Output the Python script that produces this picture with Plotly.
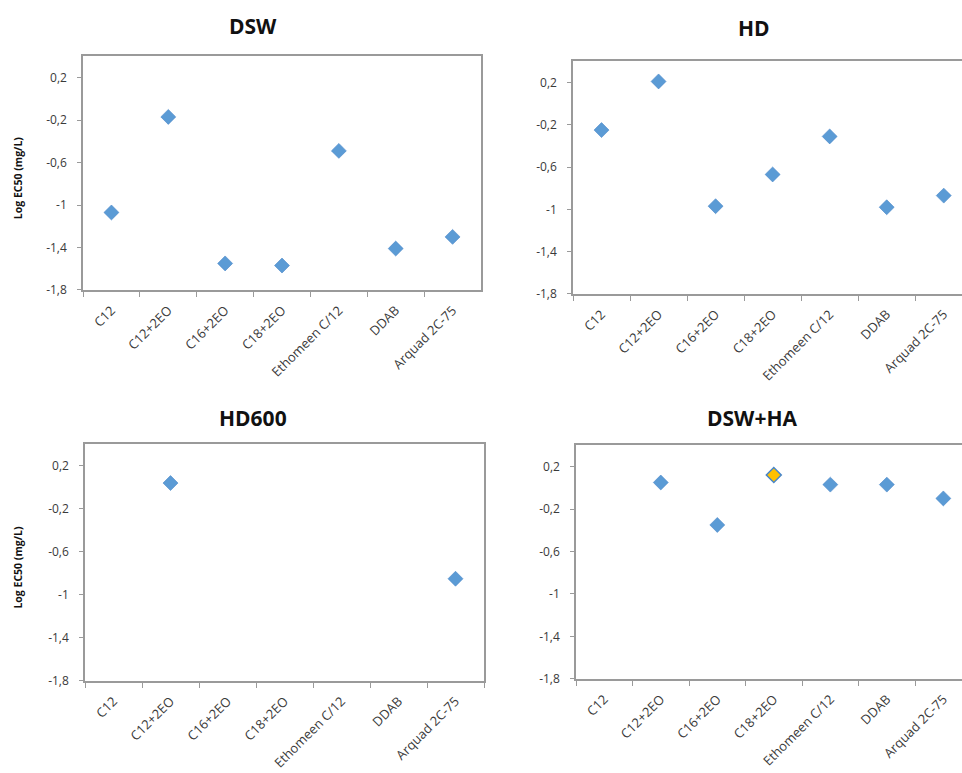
import plotly.graph_objects as go

# ---------------- data ----------------
categories = ["C12", "C12+2EO", "C16+2EO", "C18+2EO", "Ethomeen C/12", "DDAB", "Arquad 2C-75"]
dsw = [-1.07, -0.17, -1.55, -1.57, -0.49, -1.41, -1.30]
hd = [-0.25, 0.21, -0.97, -0.67, -0.31, -0.98, -0.87]
hd600 = [None, 0.04, None, None, None, None, -0.85]
dsw_ha = [None, 0.05, -0.35, 0.12, 0.03, 0.03, -0.10]
panel_titles = ["DSW", "HD", "HD600", "DSW+HA"]
y_tickvals = [-1.8, -1.4, -1.0, -0.6, -0.2, 0.2]
y_ticktext = ["-1,8", "-1,4", "-1", "-0,6", "-0,2", "0,2"]
y_title = "Log EC50 (mg/L)"
highlight_category = "C18+2EO"  # yellow point in DSW+HA

# ---------------- style / layout ----------------
W, H = 962, 773
BLUE = "#5B9BD5"
BLUE_LINE = "#4A86C8"
YELLOW = "#FFC000"
AXIS = "#9a9a9a"
TXT = "#3a3a3a"
FONT = "Open Sans"

def px_x(v):
    return v / W

def px_y(v):
    return 1 - v / H

panels = [
    dict(l=83, r=481, t=57, b=293, xmax=6.5, full=True, title_xy=(253, 26)),
    dict(l=573, r=962, t=62, b=297, xmax=6.32, full=False, title_xy=(754, 28)),
    dict(l=85, r=484, t=449, b=688, xmax=6.5, full=True, title_xy=(253, 422)),
    dict(l=576, r=962, t=450, b=686, xmax=6.33, full=False, title_xy=(752, 422)),
]
series = [dsw, hd, hd600, dsw_ha]

fig = go.Figure()
annotations = []
for i, (p, ys) in enumerate(zip(panels, series)):
    n = "" if i == 0 else str(i + 1)
    colors = []
    lines = []
    for c in categories:
        if i == 3 and c == highlight_category:
            colors.append(YELLOW)
            lines.append(1.5)
        else:
            colors.append(BLUE)
            lines.append(0.6)
    fig.add_trace(go.Scatter(
        x=categories, y=ys, mode="markers",
        xaxis="x" + n, yaxis="y" + n,
        marker=dict(symbol="diamond", size=11.5, color=colors,
                    line=dict(color=BLUE_LINE, width=lines)),
        showlegend=False, hoverinfo="x+y",
    ))
    fig.layout["xaxis" + n] = dict(
        domain=[px_x(p["l"]), px_x(p["r"])],
        anchor="y" + n,
        type="category",
        categoryorder="array", categoryarray=categories,
        range=[-0.5, p["xmax"]],
        showline=True, linecolor=AXIS, linewidth=1.5,
        mirror=True,
        ticks="outside", tickson="boundaries", ticklen=5, tickcolor=AXIS,
        tickangle=-45,
        tickfont=dict(family=FONT, size=13, color=TXT),
        ticklabelstandoff=6,
        showgrid=False, zeroline=False, fixedrange=True,
    )
    fig.layout["yaxis" + n] = dict(
        domain=[px_y(p["b"]), px_y(p["t"])],
        anchor="x" + n,
        range=[-1.8, 0.4],
        tickvals=y_tickvals, ticktext=y_ticktext,
        showline=True, linecolor=AXIS, linewidth=1.5,
        mirror=p["full"],
        ticks="outside", ticklen=4, tickcolor=AXIS,
        tickfont=dict(family=FONT, size=12, color=TXT),
        ticklabelstandoff=8,
        showgrid=False, zeroline=False, fixedrange=True,
    )
    tx, ty = p["title_xy"]
    annotations.append(dict(
        text="<b>" + panel_titles[i] + "</b>", x=px_x(tx), y=px_y(ty),
        xref="paper", yref="paper", xanchor="center", yanchor="middle",
        showarrow=False, font=dict(family=FONT, size=21, color="#111111"),
    ))
    if p["full"]:
        annotations.append(dict(
            text="<b>" + y_title + "</b>", x=px_x(18), y=px_y((p["t"] + p["b"]) / 2 + 5),
            xref="paper", yref="paper", xanchor="center", yanchor="middle",
            textangle=-90, showarrow=False,
            font=dict(family=FONT, size=10.5, color="#111111"),
        ))

fig.update_layout(
    width=W, height=H,
    margin=dict(l=0, r=0, t=0, b=0),
    paper_bgcolor="white", plot_bgcolor="white",
    annotations=annotations,
)

fig.write_html("out.html")
